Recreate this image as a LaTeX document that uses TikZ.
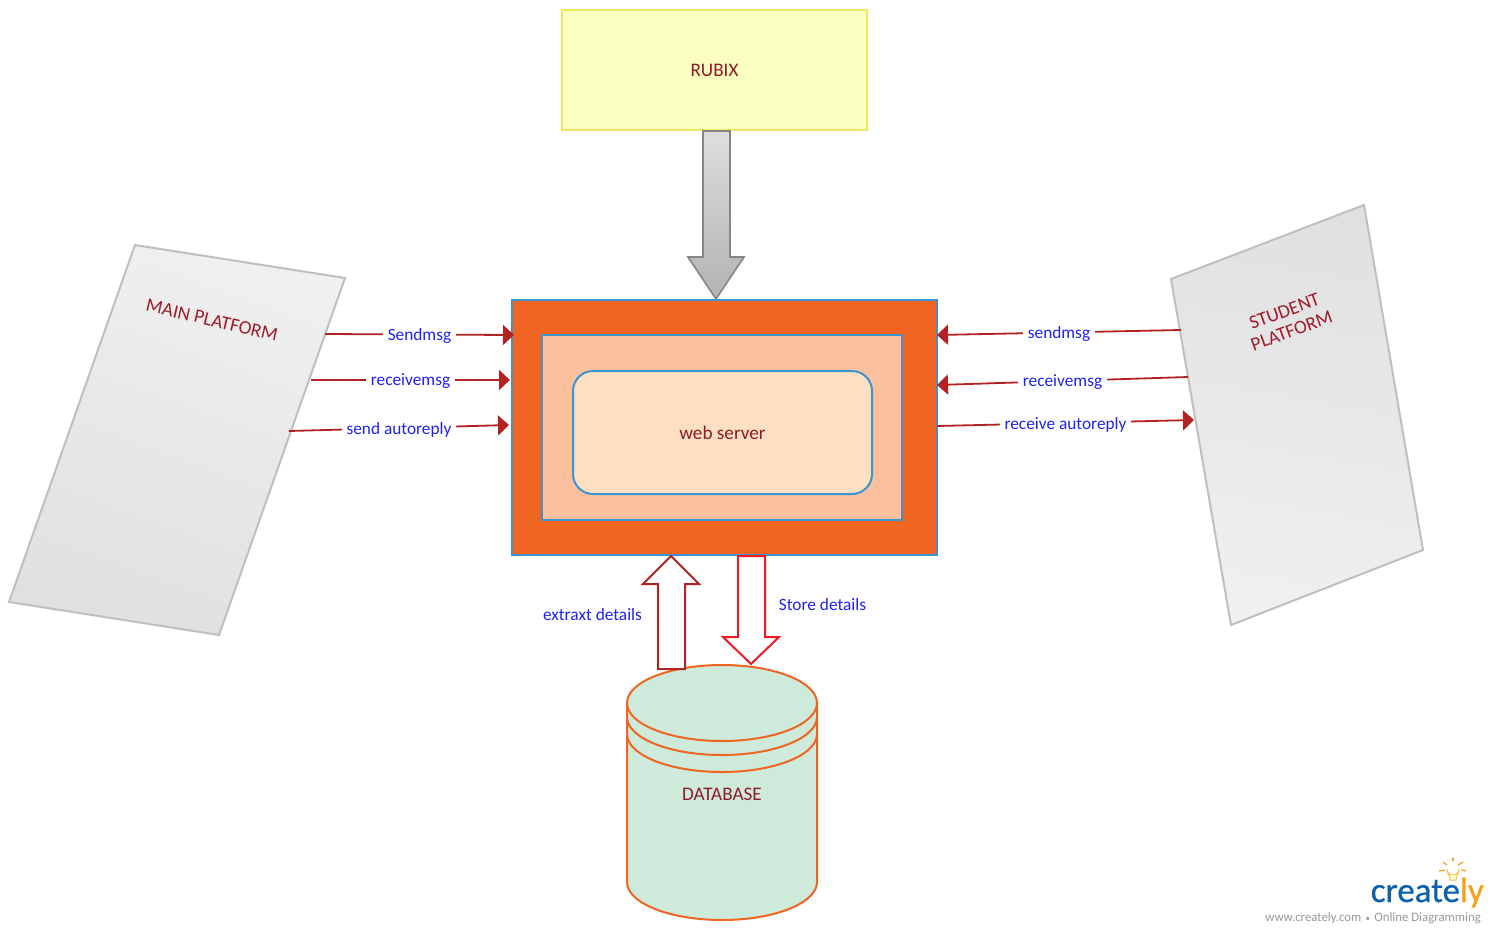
\documentclass[tikz,border=0pt]{standalone}
\usepackage{fontspec}
\setmainfont{Carlito}
\newfontfamily\logofont[FakeBold=0.6]{Carlito}
\usetikzlibrary{arrows.meta}
\definecolor{wire}{HTML}{B22222}
\definecolor{lab}{HTML}{2222EE}
\definecolor{ink}{HTML}{8E1B2B}
\definecolor{platink}{HTML}{A01A2A}
\definecolor{edgeblue}{HTML}{3A94D0}
\definecolor{orng}{HTML}{F06522}
\definecolor{crblue}{HTML}{0B62AC}
\definecolor{cryel}{HTML}{F7A01E}
\tikzset{
 x=1pt,y=-1pt,
 wirestyle/.style={draw=wire,line width=1.8pt,-{Triangle[length=11pt,width=20pt]}},
 wirelab/.style={fill=white,text=lab,inner sep=5pt,yshift=-1.5pt,font=\fontsize{17.3}{20}\selectfont},
 boxtxt/.style={text=ink,font=\fontsize{19.2}{22}\selectfont,align=center},
 plat/.style={draw=black!25,line width=2pt,line join=miter},
 blockup/.style={fill=white,draw=wire,line width=2pt,line join=miter},
 blockdown/.style={fill=white,draw={rgb,255:red,237;green,28;blue,36},line width=2pt,line join=miter},
 dbline/.style={draw=orng,line width=2pt},
}
\begin{document}
\begin{tikzpicture}
\useasboundingbox (0,0) rectangle (1496,930);
\fill[white] (0,0) rectangle (1496,930);

% RUBIX
\node[draw={rgb,255:red,238;green,232;blue,100},fill={rgb,255:red,250;green,255;blue,192},line width=2pt,minimum width=305pt,minimum height=120pt,inner sep=0pt,boxtxt] (rubix) at (714.5,70) {RUBIX};

% block arrow to the server
\path[shade,top color=black!13,bottom color=black!30,draw=black!48,line width=1.6pt,line join=miter]
 (703,131) -- (730,131) -- (730,257) -- (744,257) -- (716,299) -- (688,257) -- (703,257) -- cycle;

% platforms
\coordinate (ma) at (135,245); \coordinate (mb) at (345,278); \coordinate (mc) at (219,635); \coordinate (md) at (9,602);
\path[plat,shade,top color=black!6,bottom color=black!12,shading angle=-20] (ma) -- (mb) -- (mc) -- (md) -- cycle;
\node[boxtxt,rotate=-13,text=platink] (mainp) at (212,320) {MAIN PLATFORM};

\coordinate (sa) at (1171,279); \coordinate (sb) at (1364,205); \coordinate (sc) at (1423,550); \coordinate (sd) at (1231,625);
\path[plat,shade,top color=black!12,bottom color=black!6,shading angle=-10] (sa) -- (sb) -- (sc) -- (sd) -- cycle;
\node[rotate=20,text=platink,align=center,font=\fontsize{19.2}{21}\selectfont] (studp) at (1288,321) {STUDENT\\PLATFORM};

% server
\node[draw=edgeblue,fill=orng,line width=2pt,minimum width=425pt,minimum height=255pt,inner sep=0pt] (outer) at (724.5,427.5) {};
\node[draw=edgeblue,fill={rgb,255:red,253;green,192;blue,158},line width=2pt,minimum width=360pt,minimum height=185pt,inner sep=0pt] (middle) at (722,427.5) {};
\node[draw=edgeblue,fill={rgb,255:red,253;green,224;blue,194},line width=2pt,rounded corners=20pt,minimum width=299pt,minimum height=123pt,inner sep=0pt,boxtxt] (web) at (722.5,432.5) {web server};

% database
\path[fill={rgb,255:red,206;green,234;blue,219},dbline]
 (627,703) -- (627,882) arc[start angle=180,end angle=360,x radius=95,y radius=-38] -- (817,703)
 arc[start angle=0,end angle=180,x radius=95,y radius=-38] -- cycle;
\draw[dbline] (627,703) arc[start angle=180,end angle=360,x radius=95,y radius=-38];
\draw[dbline] (627,717) arc[start angle=180,end angle=360,x radius=95,y radius=-38];
\draw[dbline] (627,734) arc[start angle=180,end angle=360,x radius=95,y radius=-38];
\node[boxtxt] (db) at (722,794) {DATABASE};

% server <-> database
\path[blockup] (671,556) -- (699,584) -- (685,584) -- (685,669) -- (658,669) -- (658,584) -- (643,584) -- cycle;
\path[blockdown] (738,556) -- (765,556) -- (765,637) -- (779,637) -- (751,664) -- (723,637) -- (738,637) -- cycle;
\node[wirelab,fill=none] (extr) at (592.5,613) {extraxt details};
\node[wirelab,fill=none] (stor) at (822.5,603) {Store details};

% connectors
\coordinate (l1a) at (325,334); \coordinate (l1b) at (514,335);
\coordinate (l2a) at (311,380); \coordinate (l2b) at (510,380);
\coordinate (l3a) at (289,431); \coordinate (l3b) at (509,425);
\coordinate (r1a) at (1181,330); \coordinate (r1b) at (937,335);
\coordinate (r2a) at (1188,377); \coordinate (r2b) at (937,385);
\coordinate (r3a) at (937,426); \coordinate (r3b) at (1194,420);
\draw[wirestyle] (l1a) -- node[wirelab] {Sendmsg} (l1b);
\draw[wirestyle] (l2a) -- node[wirelab] {receivemsg} (l2b);
\draw[wirestyle] (l3a) -- node[wirelab] {send autoreply} (l3b);
\draw[wirestyle] (r1a) -- node[wirelab] {sendmsg} (r1b);
\draw[wirestyle] (r2a) -- node[wirelab] {receivemsg} (r2b);
\draw[wirestyle] (r3a) -- node[wirelab] {receive autoreply} (r3b);

% logo
\draw[cryel!70,line width=1pt,fill=yellow!18] (1450,880) .. controls (1450,875) and (1447,874) .. (1447,869) arc[start angle=180,end angle=0,x radius=6,y radius=6] .. controls (1459,874) and (1456,875) .. (1456,880) -- cycle;
\foreach \a/\b/\c/\d in {1453/858/1453/861, 1443/862/1447/865, 1463/862/1458/865, 1439/871/1445/870, 1466/871/1461/869.5}
 \draw[cryel,line width=1.2pt] (\a,\b) -- (\c,\d);
\node[inner sep=0pt,anchor=base east,font=\fontsize{35}{38}\logofont] (logo) at (1484,902) {\textcolor{crblue}{create}\textcolor{cryel}{ly}};
\node[inner sep=0pt,anchor=base east,text=black!40,font=\fontsize{12.8}{15}\selectfont] (tag) at (1481,921) {www.creately.com\,\,{\fontsize{9}{9}\selectfont•}\,\,Online Diagramming};
\end{tikzpicture}
\end{document}
